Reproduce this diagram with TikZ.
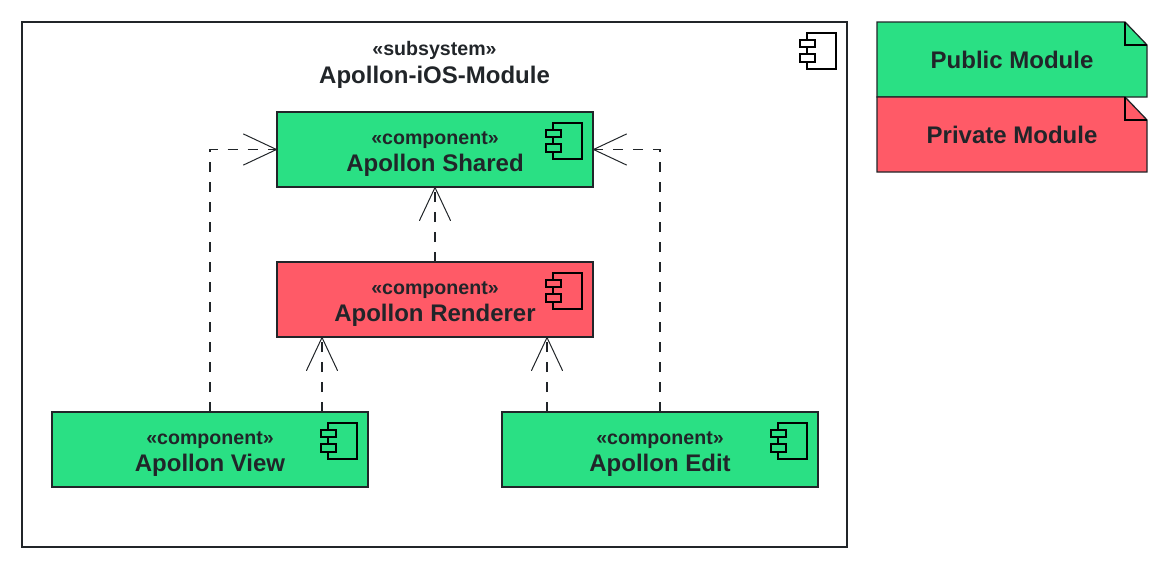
\documentclass[tikz,border=0pt]{standalone}
\usepackage{fontspec}
\setmainfont{Liberation Sans}
\usetikzlibrary{positioning, calc, backgrounds, arrows.meta}
\definecolor{pubgreen}{HTML}{2AE084}
\definecolor{privred}{HTML}{FF5A67}
\definecolor{inkdark}{HTML}{212529}
\tikzset{
	module/.style={draw=inkdark, line width=1.1pt, minimum width=316pt, minimum height=75pt, outer sep=0pt, inner sep=0pt, text=inkdark, align=center},
	legendnote/.style={minimum width=270pt, minimum height=75pt, outer sep=0pt, inner sep=0pt, text=inkdark, font=\bfseries\fontsize{24}{26}\selectfont},
	dep/.style={draw=inkdark, line width=1.4pt, dash pattern=on 10pt off 10pt, -{Straight Barb[length=33pt, width=31pt, line width=1pt, round=false]}},
	compicon/.pic={
		\draw[black, line width=1.8pt] (-40,11) rectangle (-11,47);
		\draw[black, line width=1.4pt, fill=#1] (-47,18) rectangle (-32,25);
		\draw[black, line width=1.4pt, fill=#1] (-47,32) rectangle (-32,40);
	}
}
\newcommand{\modtext}[2]{{\bfseries\fontsize{19.6}{25}\selectfont\rule{0pt}{22pt}\guillemotleft #1\guillemotright}\\[5.5pt]{\bfseries\fontsize{24}{25}\selectfont #2}}
\newcommand{\foldnote}[2]{\draw[draw=inkdark, line width=1.3pt, line join=miter, fill=#2] (#1.north west) -- ($(#1.north east)+(-22,0)$) -- ($(#1.north east)+(0,23)$) -- (#1.south east) -- (#1.south west) -- cycle;
	\draw[draw=black, line width=1.3pt] ($(#1.north east)+(-22,0)$) -- ($(#1.north east)+(-22,23)$) -- ($(#1.north east)+(0,23)$);}

\begin{document}
\begin{tikzpicture}[x=1pt, y=-1pt, node distance=75pt]
		\useasboundingbox (0,0) rectangle (1170,570);

		\node(subsystem) [draw=inkdark, line width=1.1pt, minimum width=825pt, minimum height=525pt, outer sep=0pt] at (434.5,284.5) {};
		\node(title) [below=8pt of subsystem.north, text=inkdark, align=center] {\modtext{subsystem}{Apollon-iOS-Module}};
		\pic at (subsystem.north east) {compicon=white};

		\node(shared) [module, fill=pubgreen] at (435,149.5) {\modtext{component}{Apollon Shared}};
		\node(renderer) [module, fill=privred, below=of shared] {\modtext{component}{Apollon Renderer}};
		\node(view) [module, fill=pubgreen, below=of renderer, xshift=-225pt] {\modtext{component}{Apollon View}};
		\node(edit) [module, fill=pubgreen, below=of renderer, xshift=225pt] {\modtext{component}{Apollon Edit}};

		\pic at (shared.north east) {compicon=pubgreen};
		\pic at (renderer.north east) {compicon=privred};
		\pic at (view.north east) {compicon=pubgreen};
		\pic at (edit.north east) {compicon=pubgreen};

		\node(public) [legendnote] at (1012,59.5) {Public Module};
		\node(private) [legendnote, below=0pt of public] {Private Module};
		\begin{scope}[on background layer]
		\foldnote{public}{pubgreen}
		\foldnote{private}{privred}
		\end{scope}

		\draw[dep] (renderer.north) -- (shared.south);
		\draw[dep] (view.north) |- (shared.west);
		\draw[dep] (edit.north) |- (shared.east);
		\draw[dep] ([xshift=112pt]view.north) -- ([xshift=-113pt]renderer.south);
		\draw[dep] ([xshift=-113pt]edit.north) -- ([xshift=112pt]renderer.south);
\end{tikzpicture}
\end{document}
